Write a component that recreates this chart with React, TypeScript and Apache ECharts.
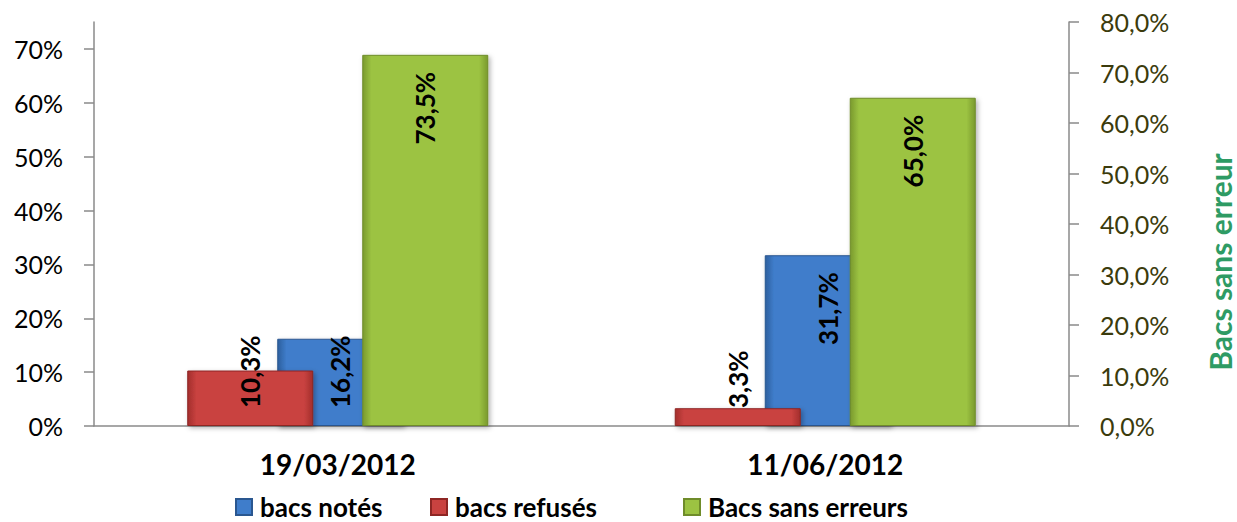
import React, { useEffect, useRef } from 'react';
import * as echarts from 'echarts';

const categories = ['19/03/2012', '11/06/2012'];
const bacsNotes = [0.162, 0.317];
const bacsRefuses = [0.103, 0.033];
const bacsSansErreurs = [0.735, 0.65];
const leftTickValues = [0, 0.1, 0.2, 0.3, 0.4, 0.5, 0.6, 0.7];
const rightTickValues = [0, 0.1, 0.2, 0.3, 0.4, 0.5, 0.6, 0.7, 0.8];
const legendNames = ['bacs notés', 'bacs refusés', 'Bacs sans erreurs'];
const rightAxisName = 'Bacs sans erreur';

const FONT = 'Lato';

function grad(edge: string, mid: string) {
  return new echarts.graphic.LinearGradient(0, 0, 1, 0, [
    { offset: 0, color: edge },
    { offset: 0.07, color: mid },
    { offset: 0.93, color: mid },
    { offset: 1, color: edge },
  ]);
}

const topLabel = { position: 'insideTop', distance: 17, rotate: 90, align: 'right', verticalAlign: 'middle' };
const baseLabel = { position: 'insideBottom', distance: 18, rotate: 90, align: 'left', verticalAlign: 'middle' };

function items(values: number[], tallFrom: number) {
  return values.map((v) => ({ value: v, label: v >= tallFrom ? topLabel : baseLabel }));
}

const fmt = (p: any) => (p.value * 100).toFixed(1).replace('.', ',') + '%';

const labelCommon = {
  show: true,
  formatter: fmt,
  fontFamily: FONT,
  fontWeight: 'bold',
  fontSize: 26,
  color: '#000',
};

const shadow = {
  shadowColor: 'rgba(0,0,0,0.3)',
  shadowBlur: 5,
  shadowOffsetX: 2,
  shadowOffsetY: 2,
};

export default function App() {
  const ref = useRef<HTMLDivElement>(null);
  useEffect(() => {
    const chart = echarts.init(ref.current!, null, { renderer: 'svg' });
    const axisGray = '#8a8a8a';
    const gapA = '-28.57%';
    const gapB = '38.9%';
    const legendCommon = {
      orient: 'horizontal',
      top: 494,
      padding: 0,
      itemWidth: 16,
      itemHeight: 16,
      icon: 'rect',
      textStyle: {
        fontFamily: FONT,
        fontWeight: 'bold',
        fontSize: 26,
        lineHeight: 26,
        color: '#000',
        padding: [0, 0, 0, 3],
      },
      selectedMode: false,
    };
    chart.setOption({
      animation: false,
      backgroundColor: '#fff',
      grid: { left: 94, right: 168, top: 22, bottom: 96 },
      legend: [
        { ...legendCommon, left: 235, data: [legendNames[0]] },
        { ...legendCommon, left: 430, data: [legendNames[1]] },
        { ...legendCommon, left: 683, data: [legendNames[2]] },
      ],
      graphic: [
        {
          type: 'text',
          x: 1220,
          y: 262,
          rotation: Math.PI / 2,
          style: {
            text: rightAxisName,
            fontFamily: FONT,
            fontWeight: 'bold',
            fontSize: 30,
            fill: '#2e9b64',
            align: 'center',
            verticalAlign: 'middle',
          },
        },
      ],
      xAxis: [
        {
          type: 'category',
          data: categories,
          axisLine: { lineStyle: { color: axisGray, width: 1.5 } },
          axisTick: { length: 10, lineStyle: { color: axisGray, width: 1.5 } },
          axisLabel: { fontFamily: FONT, fontWeight: 'bold', fontSize: 28, color: '#000', margin: 24 },
        },
        { type: 'category', data: categories, show: false },
      ],
      yAxis: [
        {
          type: 'value',
          min: 0,
          max: 0.75,
          interval: 0.1,
          position: 'left',
          splitLine: { show: false },
          axisLine: { show: true, lineStyle: { color: axisGray, width: 1.5 } },
          axisTick: { show: true, length: 10, customValues: leftTickValues, lineStyle: { color: axisGray, width: 1.5 } },
          axisLabel: {
            customValues: leftTickValues,
            formatter: (v: number) => Math.round(v * 100) + '%',
            fontFamily: FONT,
            fontSize: 25,
            color: '#000',
            margin: 31,
          },
        },
        {
          type: 'value',
          min: 0,
          max: 0.8,
          interval: 0.1,
          position: 'right',
          splitLine: { show: false },
          axisLine: { show: true, lineStyle: { color: axisGray, width: 1.5 } },
          axisTick: { show: true, length: 10, customValues: rightTickValues, lineStyle: { color: axisGray, width: 1.5 } },
          axisLabel: {
            customValues: rightTickValues,
            formatter: (v: number) => (v * 100).toFixed(1).replace('.', ',') + '%',
            fontFamily: FONT,
            fontSize: 25,
            color: '#3b3b0c',
            margin: 31,
          },
        },
      ],
      series: [
        {
          name: legendNames[1],
          type: 'bar',
          xAxisIndex: 0,
          yAxisIndex: 0,
          barWidth: 126,
          barGap: gapA,
          z: 3,
          data: items(bacsRefuses, 0.2),
          itemStyle: { color: grad('#a32e2c', '#c94240'), borderColor: '#8e2624', borderWidth: 1, ...shadow },
          label: labelCommon,
        },
        {
          name: legendNames[0],
          type: 'bar',
          xAxisIndex: 0,
          yAxisIndex: 0,
          barWidth: 126,
          barGap: gapA,
          z: 2,
          data: items(bacsNotes, 0.2),
          itemStyle: { color: grad('#2d5f9e', '#3f7dcb'), borderColor: '#2a5790', borderWidth: 1, ...shadow },
          label: labelCommon,
        },
        {
          type: 'bar',
          xAxisIndex: 0,
          yAxisIndex: 0,
          barWidth: 121,
          barGap: gapA,
          data: [],
        },
        {
          type: 'bar',
          xAxisIndex: 1,
          yAxisIndex: 1,
          barWidth: 126,
          barGap: gapB,
          data: [],
        },
        {
          name: legendNames[2],
          type: 'bar',
          xAxisIndex: 1,
          yAxisIndex: 1,
          barWidth: 126,
          barGap: gapB,
          z: 2,
          data: items(bacsSansErreurs, 0),
          itemStyle: { color: grad('#7a9a2e', '#9cc342'), borderColor: '#6f8c2a', borderWidth: 1, ...shadow },
          label: labelCommon,
        },
      ],
    });
    return () => chart.dispose();
  }, []);
  return (
    <div
      ref={ref}
      style={{ position: 'fixed', left: 0, top: 0, width: 1237, height: 522, background: '#fff' }}
    />
  );
}
